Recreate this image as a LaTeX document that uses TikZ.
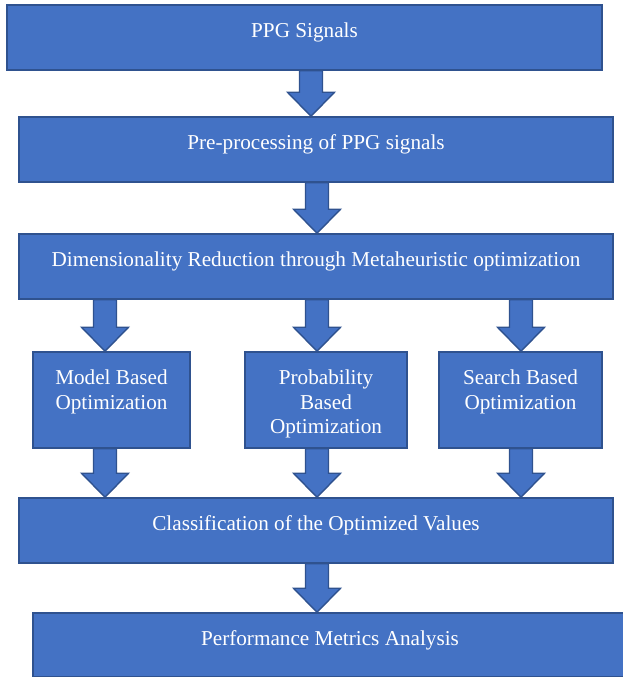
\documentclass[tikz,border=0pt]{standalone}
\usepackage{fontspec}
\setmainfont{Liberation Serif}
\usetikzlibrary{calc}

\definecolor{boxblue}{HTML}{4472C4}
\definecolor{edgeblue}{HTML}{2F528F}

\tikzset{
  blk/.style={rectangle, draw=edgeblue, fill=boxblue, line width=1.5pt, inner sep=0pt},
  lbl/.style={text=white, align=center, anchor=base, inner sep=0pt, font=\fontsize{21.2}{24.5}\selectfont},
  fat/.style={draw=edgeblue, fill=boxblue, line width=1.4pt, line join=miter}
}

% block arrow: x centre, from node, to node
\newcommand{\fatarrow}[3]{%
  \draw[fat] let \p1=(#2.south), \p2=(#3.north) in
    ({#1pt-11.5pt},\y1) -- ({#1pt+11.5pt},\y1) -- ({#1pt+11.5pt},{\y2+24pt})
    -- ({#1pt+23.5pt},{\y2+24pt}) -- (#1pt,\y2) -- ({#1pt-23.5pt},{\y2+24pt})
    -- ({#1pt-11.5pt},{\y2+24pt}) -- cycle;
}

\begin{document}
\begin{tikzpicture}[x=1pt,y=-1pt]
  \useasboundingbox (0,0) rectangle (622,677);

  % boxes
  \node[blk, minimum width=595pt, minimum height=65pt] (sig)  at (304.5,37.5) {};
  \node[blk, minimum width=594pt, minimum height=65pt] (pre)  at (316,149.5) {};
  \node[blk, minimum width=594pt, minimum height=65pt] (dim)  at (316,266.5) {};
  \node[blk, minimum width=157pt, minimum height=96pt] (mdl)  at (111.5,400) {};
  \node[blk, minimum width=162pt, minimum height=96pt] (prob) at (326,400) {};
  \node[blk, minimum width=163pt, minimum height=96pt] (srch) at (520.5,400) {};
  \node[blk, minimum width=594pt, minimum height=65pt] (cls)  at (316,530.5) {};
  \node[blk, minimum width=594pt, minimum height=64pt] (perf) at (330,645) {};

  % arrows
  \fatarrow{311}{sig}{pre}
  \fatarrow{317}{pre}{dim}
  \fatarrow{105}{dim}{mdl}
  \fatarrow{317}{dim}{prob}
  \fatarrow{521}{dim}{srch}
  \fatarrow{105}{mdl}{cls}
  \fatarrow{317}{prob}{cls}
  \fatarrow{521}{srch}{cls}
  \fatarrow{317}{cls}{perf}

  % texts (base = last line)
  \node[lbl] (sigtxt)  at ([yshift=-33.5pt]sig.north)  {PPG Signals};
  \node[lbl] (pretxt)  at ([yshift=-33.5pt]pre.north)  {Pre-processing of PPG signals};
  \node[lbl] (dimtxt)  at ([yshift=-33.5pt]dim.north)  {Dimensionality Reduction through Metaheuristic optimization};
  \node[lbl] (mdltxt)  at ([yshift=-58pt]mdl.north)  {Model Based\\Optimization};
  \node[lbl] (probtxt) at ([yshift=-82.5pt]prob.north) {Probability\\Based\\Optimization};
  \node[lbl] (srchtxt) at ([yshift=-58pt]srch.north) {Search Based\\Optimization};
  \node[lbl] (clstxt)  at ([yshift=-33.5pt]cls.north)  {Classification of the Optimized Values};
  \node[lbl] (perftxt) at ([yshift=-33.5pt]perf.north) {Performance Metrics Analysis};
\end{tikzpicture}
\end{document}
